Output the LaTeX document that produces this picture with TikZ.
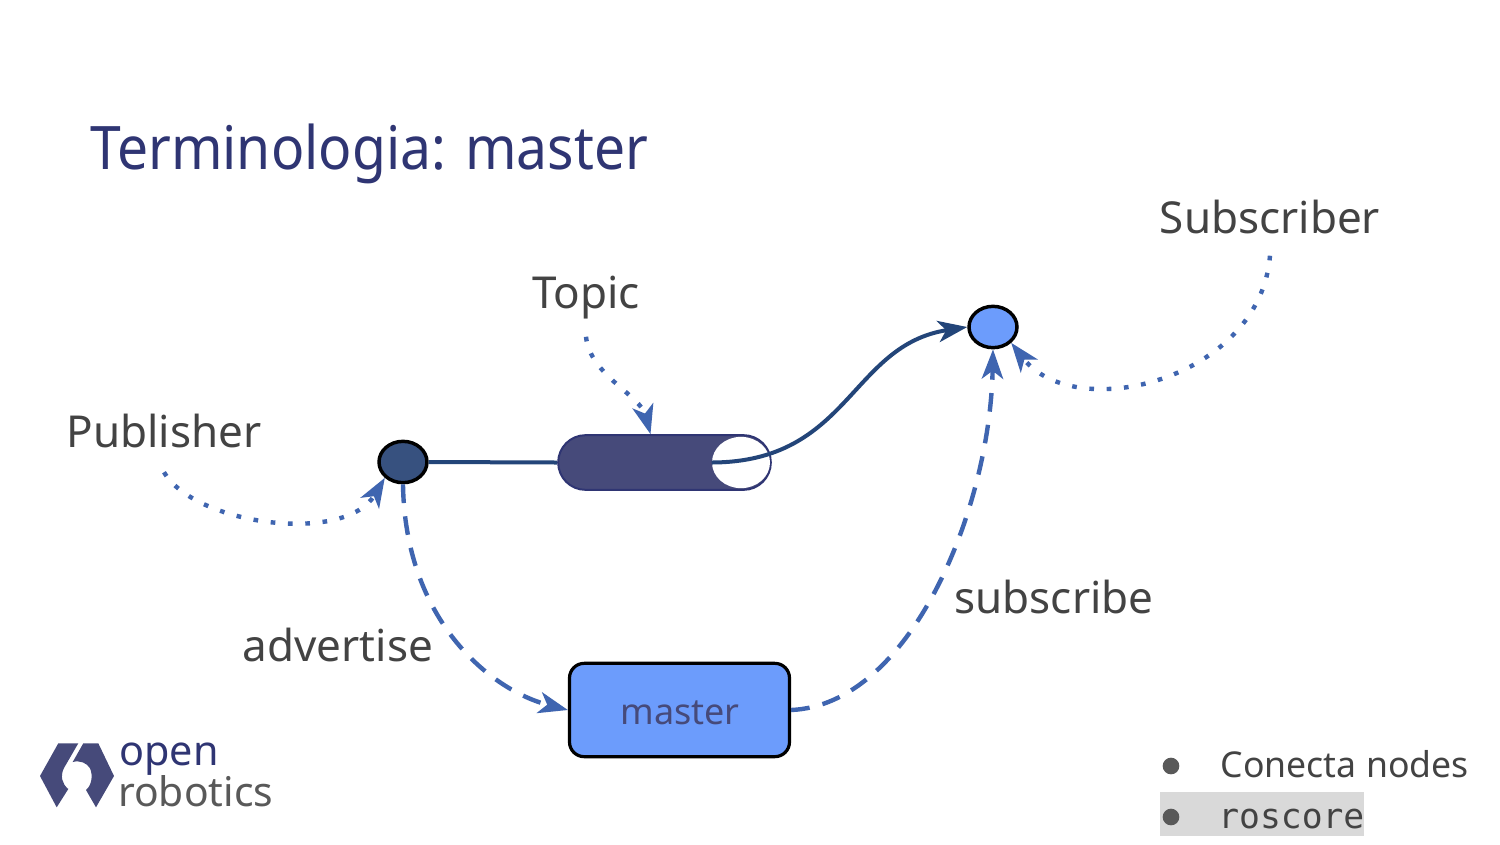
\documentclass[tikz,border=0pt]{standalone}
\usepackage{graphicx}
\usepackage{fontspec}
\setmainfont{Noto Sans}
\setmonofont{DejaVu Sans Mono}
\usetikzlibrary{arrows.meta,shapes.geometric}
\definecolor{titleblue}{HTML}{2F3573}
\definecolor{txt}{HTML}{434343}
\definecolor{navy}{HTML}{464A7A}
\definecolor{wire}{HTML}{234579}
\definecolor{dash}{HTML}{3F65B0}
\definecolor{light}{HTML}{6C9CFC}
\definecolor{dark}{HTML}{37517F}
\definecolor{bul}{HTML}{595959}
\definecolor{graybox}{HTML}{D9D9D9}
\tikzset{
  x=.75pt,y=-.75pt,
  label/.style={font=\fontsize{33}{36}\selectfont,text=txt,inner sep=0pt},
  dot/.style={ellipse,draw=black,line width=2.6pt,inner sep=0pt,minimum width=36pt,minimum height=31pt},
  tipdash/.style={-{Stealth[inset=6pt,length=22pt,width=16pt,fill=dash]}},
  dottedlink/.style={draw=dash,line width=3.3pt,dash pattern=on 3.5pt off 9.5pt,tipdash},
  dashedlink/.style={draw=dash,line width=3.3pt,dash pattern=on 14pt off 10pt,tipdash},
  wirelink/.style={draw=wire,line width=3pt},
  bulletdot/.style={circle,fill=bul,inner sep=0pt,minimum size=12.5pt},
  small/.style={font=\fontsize{26.7}{30}\selectfont,text=txt,inner sep=0pt,anchor=west},
}
\begin{document}
\begin{tikzpicture}
\useasboundingbox (0,0) rectangle (1500,844);
\fill[white] (0,0) rectangle (1500,844);
\node[font=\fontsize{45}{50}\selectfont,text=titleblue,inner sep=0pt,anchor=west] (title) at (90,154) {\scalebox{.92}[1]{Terminologia: master}};
% pill
\node[rectangle,fill=navy,draw=titleblue,line width=1.5pt,rounded corners=20.5pt,minimum width=159.5pt,minimum height=41pt,inner sep=0pt] (pill) at (664.5,462.5) {};
\node[ellipse,fill=white,draw=none,inner sep=0pt,minimum width=43.5pt,minimum height=38.5pt] (hole) at (741,462.5) {};
\node[dot,fill=dark] (pub) at (403,462) {};
\node[dot,fill=light] (sub) at (993,327) {};
\node[rectangle,draw=black,line width=2.4pt,fill=light,rounded corners=11pt,minimum width=165pt,minimum height=70pt,inner sep=0pt] (master) at (679.5,710) {};
\node[font=\fontsize{27}{30}\selectfont,text=navy,inner sep=0pt] (mlabel) at (680,713) {master};
% labels
\node[label] (publisher) at (164,431) {Publisher};
\node[label] (topic) at (586,298) {Topic};
\node[label] (subscriber) at (1270,216.5) {Subscriber};
\node[label] (advertise) at (338,645) {advertise};
\node[label] (subscribe) at (1054,596.5) {subscribe};
% wires
\draw[wirelink] (pub.east) -- (pill.west);
\draw[wirelink,-{Stealth[inset=6pt,length=22pt,width=16pt]}] (hole.west) .. controls (850,462) and (850,345) .. (sub.west);
% dotted
\draw[dottedlink] (publisher.south) ++(0,24) coordinate (pubstart) (pubstart) .. controls (195,525) and (345,545) .. (pub.south west);
\draw[dottedlink] (topic.south) ++(0,17) coordinate (topstart) (topstart) .. controls (590,375) and (640,395) .. ([xshift=-10.5pt]pill.north);
\draw[dottedlink] (subscriber.south) ++(0,22) coordinate (substart) (substart) .. controls (1260,380) and (1075,425) .. (sub.south east);
% dashed
\draw[dashedlink] (pub.south) .. controls (405,620) and (490,690) .. (master.west);
\draw[dashedlink] (master.east) .. controls (910,705) and (990,510) .. (sub.south);
% bullets
\fill[graybox] (1160,792) rectangle (1364,836);
\node[bulletdot] (b1) at (1171,766) {};
\node[bulletdot] (b2) at (1171,817) {};
\node[small] (t1) at (1220.5,764) {Conecta nodes};
\node[small,font=\fontsize{26}{30}\selectfont\ttfamily] (t2) at (1218,819) {roscore};
% logo
\fill[navy] (58.3,743.3) -- (78.3,743.3) -- (64,768) .. controls (60,776) and (62,784) .. (68.3,789) -- (56.7,807.3) -- (40,776) -- cycle;
\fill[navy] (83.3,743.3) -- (98.3,743.3) -- (114,776) -- (96,807.3) -- (86,790) .. controls (92,785) and (93,775) .. (90,768.3) .. controls (87,763) and (80,760) .. (72.7,762) -- cycle;
\node[font=\fontsize{31}{32}\selectfont,text=titleblue,inner sep=0pt,anchor=west] (open) at (119,759) {open};
\node[font=\fontsize{30.6}{32}\selectfont,text=bul,inner sep=0pt,anchor=west] (robotics) at (118,791) {robotics};
\end{tikzpicture}
\end{document}
